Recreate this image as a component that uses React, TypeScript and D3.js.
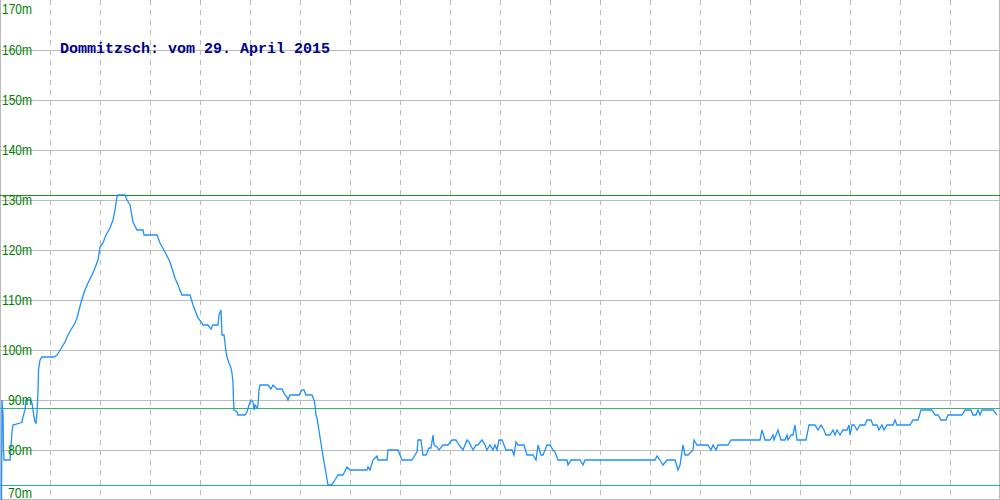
import { useEffect, useRef } from 'react';
import * as d3 from 'd3';

// Messreihe: Position (Messpunkt) und Höhe in Metern
const t = [
  1.5, 2, 3, 3.5, 4, 10, 12, 13, 20, 22, 23, 25, 26, 30, 32, 33, 34, 35, 36, 37,
  37.5, 38, 38.5, 40, 42, 54, 57, 59, 62, 65, 68, 72, 75, 77, 79, 82, 85, 88, 92, 95,
  98, 100, 103, 106, 110, 113, 115, 117, 118, 125, 127, 130, 133, 137, 143, 144, 157, 160, 165, 170,
  175, 178, 182, 190, 193, 198, 202, 203, 208, 211, 213, 218, 219, 221, 222, 224, 225, 226, 227, 229,
  231, 232, 233, 233.5, 234, 237, 238, 245, 247, 249, 251, 253, 254, 255, 257, 258, 259, 260, 268, 271,
  273, 275, 277, 282, 285, 287, 288, 290, 299, 302, 304, 306, 312, 314, 315, 316, 317, 322, 328, 331,
  333, 335, 338, 343, 347, 350, 367, 368, 370, 373, 377, 378, 387, 388, 398, 402, 412, 415, 417, 418,
  421, 423, 426, 429, 431, 433, 434, 437, 439, 443, 448, 452, 456, 459, 463, 467, 469, 473, 476, 478,
  482, 485, 487, 490, 493, 495, 497, 499, 502, 506, 512, 514, 516, 518, 524, 527, 533, 536, 538, 541,
  543, 547, 550, 553, 555, 558, 567, 568, 571, 580, 583, 585, 655, 657, 660, 663, 667, 675, 678, 680,
  683, 685, 688, 693, 694, 697, 708, 711, 713, 716, 718, 728, 731, 760, 762, 765, 770, 773, 774, 778,
  781, 785, 787, 788, 791, 793, 795, 797, 806, 809, 815, 818, 821, 824, 826, 830, 833, 835, 837, 840,
  843, 847, 849, 850, 852, 854, 857, 860, 865, 867, 871, 873, 877, 879, 882, 884, 887, 893, 895, 897,
  910, 913, 918, 921, 932, 935, 938, 941, 946, 948, 962, 965, 971, 973, 976, 978, 980, 982, 993, 997,
];
const hoehe = [
  70, 90, 87, 80, 78, 78, 83.6, 85, 85.4, 85.6, 86.6, 88, 90, 90, 89.4, 88, 86.6, 85.6, 85.4, 87.4,
  89.4, 92, 96, 98, 98.6, 98.6, 99, 99.6, 100.6, 101.6, 103, 104.4, 105.4, 106.4, 108, 110.2, 112, 113.4, 115, 116.4,
  118, 120.6, 121.4, 123, 124.4, 126, 128, 130.6, 131, 131, 130, 129, 125.6, 124, 124, 123, 123, 121.4, 119.6, 117.6,
  114.4, 113, 111, 111, 109, 106.4, 105.4, 105, 105, 104.2, 105, 105, 107, 108, 103, 103, 101.4, 99.6, 98.6, 97.4,
  96.4, 95.4, 93.4, 90, 88, 87.6, 87, 87, 87.6, 89, 90, 89.6, 88, 89, 88.4, 89, 92, 93, 93, 92.2,
  93, 92.6, 92.2, 92.2, 91, 90.6, 90, 91, 91, 92, 92, 91, 91, 90, 89, 87, 86.4, 80, 73, 73,
  73.4, 74, 75, 75, 76.6, 76, 76, 76.6, 76, 78, 78.8, 78, 78, 80, 80, 78, 78, 79, 79.6, 82,
  82, 79, 79, 80.4, 80.4, 83, 81, 80.6, 80, 81, 81, 82, 82, 81, 80, 82, 81.6, 80, 81, 81,
  82, 81, 80, 81, 80, 81, 80, 82, 82, 80, 80, 79, 81.6, 81, 81, 79, 79, 78, 81, 79,
  79, 81, 81, 80, 79.6, 78, 78, 77, 78, 78, 77, 78, 78, 78.8, 78, 77, 78, 78, 76, 77,
  81, 79, 79, 80, 82, 81, 81, 80, 81, 80, 81, 81, 82, 82, 84, 82, 82, 83, 82, 84,
  82, 82, 83, 82, 83, 83, 85, 82, 82, 85, 85, 84, 85, 84, 83, 83, 84, 83, 84, 83,
  84, 84, 85, 83, 85, 85, 84, 85, 85, 86, 86, 85, 85, 84, 85, 84, 85, 85, 86, 85,
  85, 86, 86, 88, 88, 87, 87, 86, 86, 87, 87, 88, 88, 87, 87, 88, 87, 88, 88, 87,
];

const yTicks = [70, 80, 90, 100, 110, 120, 130, 140, 150, 160, 170];
const xGrid = [50, 100, 150, 200, 250, 300, 350, 400, 450, 500, 550, 600, 650, 700, 750, 800, 850, 900, 950];
const maxHoehe = 131;
const mittelHoehe = 88.5;
const minHoehe = 73;
const titel = 'Dommitzsch: vom 29. April 2015';

export default function App() {
  const svgRef = useRef<SVGSVGElement>(null);

  useEffect(() => {
    if (!svgRef.current) return;
    const svg = d3.select(svgRef.current);
    svg.selectAll('*').remove();

    const width = 1000;
    const height = 500;

    const x = d3.scaleLinear().domain([0, 1000]).range([0, width]);
    const y = d3.scaleLinear().domain([70, 170]).range([height, 0]);

    svg.append('rect').attr('width', width).attr('height', height).attr('fill', '#fff');

    // horizontal grid
    svg.append('g')
      .selectAll('line')
      .data(yTicks.filter(d => d > 70 && d < 170))
      .join('line')
      .attr('x1', 0)
      .attr('x2', width)
      .attr('y1', d => Math.round(y(d)) + 0.5)
      .attr('y2', d => Math.round(y(d)) + 0.5)
      .attr('stroke', '#bbbbbb')
      .attr('stroke-width', 1);

    // vertical dashed grid
    svg.append('g')
      .selectAll('line')
      .data(xGrid)
      .join('line')
      .attr('x1', d => x(d) + 0.5)
      .attr('x2', d => x(d) + 0.5)
      .attr('y1', 0)
      .attr('y2', height)
      .attr('stroke', '#bbbbbb')
      .attr('stroke-dasharray', '5,5')
      .attr('stroke-width', 1);

    // frame
    svg.append('path')
      .attr('d', `M0.5,0V${height - 0.5}H${width - 0.5}V0`)
      .attr('fill', 'none')
      .attr('stroke', '#bbbbbb')
      .attr('stroke-width', 1);

    // reference lines (max, mittel, min)
    const refs = [
      { v: maxHoehe, c: '#1f8f1f' },
      { v: mittelHoehe, c: '#3cb371' },
      { v: minHoehe, c: '#20b2aa' },
    ];
    svg.append('g')
      .selectAll('line')
      .data(refs)
      .join('line')
      .attr('x1', 0)
      .attr('x2', width)
      .attr('y1', d => Math.round(y(d.v)) + 0.5)
      .attr('y2', d => Math.round(y(d.v)) + 0.5)
      .attr('stroke', d => d.c)
      .attr('stroke-width', 1);

    // profile line
    const pts = t.map((d, i) => [d, hoehe[i]] as [number, number]);
    const line = d3.line<[number, number]>()
      .x(d => x(d[0]))
      .y(d => y(d[1]));
    svg.append('path')
      .datum(pts)
      .attr('fill', 'none')
      .attr('stroke', '#1e90ff')
      .attr('stroke-width', 1.3)
      .attr('d', line);

    // y labels
    svg.append('g')
      .selectAll('text')
      .data(yTicks)
      .join('text')
      .attr('x', 32)
      .attr('y', d => Math.max(14, Math.min(498, y(d) + 4.5)))
      .attr('text-anchor', 'end')
      .attr('font-family', 'Liberation Sans, Arial, sans-serif')
      .attr('font-size', 15)
      .attr('textLength', d => String(d).length * 6 + 12)
      .attr('lengthAdjust', 'spacingAndGlyphs')
      .attr('fill', '#008000')
      .text(d => `${d}m`);

    // title
    svg.append('text')
      .attr('x', 60)
      .attr('y', 53)
      .attr('font-family', 'Liberation Mono, monospace')
      .attr('font-size', 15)
      .attr('font-weight', 'bold')
      .attr('fill', '#00008b')
      .text(titel);
  }, []);

  return (
    <svg
      ref={svgRef}
      width={1000}
      height={500}
      style={{ position: 'absolute', left: 0, top: 0, display: 'block' }}
    />
  );
}
